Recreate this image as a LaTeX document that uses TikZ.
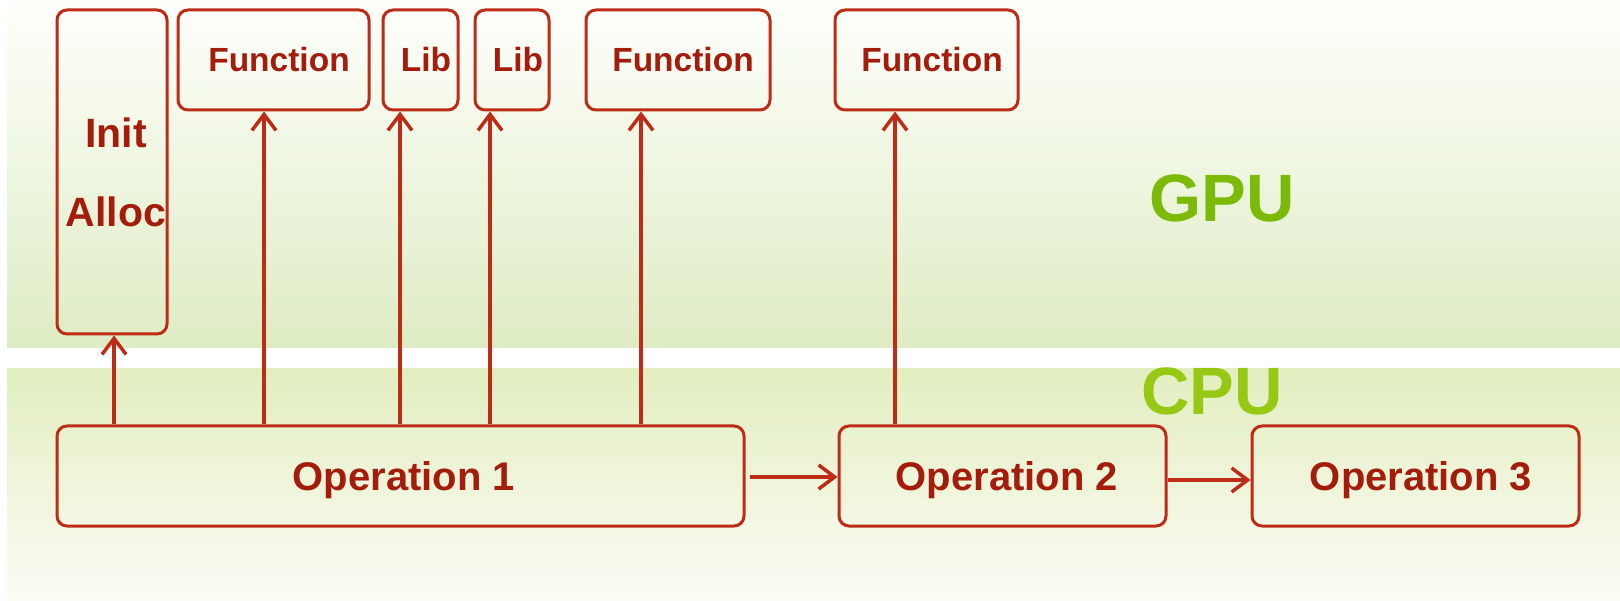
\documentclass[tikz,border=0pt]{standalone}
\usepackage{fontspec}
\setmainfont{Liberation Sans}
\usetikzlibrary{arrows.meta}

\definecolor{boxred}{HTML}{BE2C18}
\definecolor{txtred}{HTML}{A31C0C}
\definecolor{gpugreen}{HTML}{7CBA0A}
\definecolor{cpugreen}{HTML}{96C814}
\definecolor{gputop}{HTML}{FEFFFC}
\definecolor{gpubot}{HTML}{DEECC4}
\definecolor{cputop}{HTML}{E2EEC0}
\definecolor{cpubot}{HTML}{FCFCF6}

\begin{document}
\begin{tikzpicture}[x=1pt,y=-1pt,
  box/.style={draw=boxred, line width=3pt, rounded corners=10pt, inner sep=0pt},
  lbl/.style={text=txtred, inner sep=0pt, anchor=base, font=\fontsize{33.5}{40}\selectfont\bfseries},
  biglbl/.style={lbl, font=\fontsize{41}{48}\selectfont\bfseries},
  oplbl/.style={lbl, font=\fontsize{40}{48}\selectfont\bfseries},
  unitlbl/.style={inner sep=0pt, anchor=base, font=\fontsize{67}{80}\selectfont\bfseries},
  arr/.style={draw=boxred, line width=3.5pt, -{Straight Barb[length=16pt,width=24pt]}}]

\useasboundingbox (0,0) rectangle (1620,601);

% background bands
\fill[white] (0,0) rectangle (1620,601);
\shade[top color=gputop, bottom color=gpubot] (7,0) rectangle (1620,348);
\shade[top color=cputop, bottom color=cpubot] (7,369) rectangle (1620,601);

% band labels
\node[unitlbl, text=gpugreen] (gpu) at (1222,222) {GPU};
\node[unitlbl, text=cpugreen] (cpu) at (1212,415) {CPU};

% device-side boxes
\node[box, minimum width=110, minimum height=324] (init) at (112,172) {};
\node[box, minimum width=191, minimum height=100] (f1) at (273.5,60) {};
\node[box, minimum width=75, minimum height=100] (lib1) at (420.5,60) {};
\node[box, minimum width=74, minimum height=100] (lib2) at (512,60) {};
\node[box, minimum width=184, minimum height=100] (f2) at (678,60) {};
\node[box, minimum width=183, minimum height=100] (f3) at (926.5,60) {};

\node[biglbl] (initt) at (116,148) {Init};
\node[biglbl] (alloct) at (116,227) {Alloc};
\node[lbl] (f1t) at (279,72) {Function};
\node[lbl] (lib1t) at (426,72) {Lib};
\node[lbl] (lib2t) at (518,72) {Lib};
\node[lbl] (f2t) at (683,72) {Function};
\node[lbl] (f3t) at (932,72) {Function};

% host-side boxes
\node[box, minimum width=687, minimum height=100] (op1) at (400.5,476) {};
\node[box, minimum width=327, minimum height=100] (op2) at (1002.5,476) {};
\node[box, minimum width=327, minimum height=100] (op3) at (1415.5,476) {};

\node[oplbl] (op1t) at (404,490) {Operation 1};
\node[oplbl] (op2t) at (1007,490) {Operation 2};
\node[oplbl] (op3t) at (1421,490) {Operation 3};

% launch lines
\coordinate (xa) at (114,0);
\coordinate (xb) at (264,0);
\coordinate (xc) at (400,0);
\coordinate (xd) at (490,0);
\coordinate (xe) at (641,0);
\coordinate (xf) at (895,0);

\draw[arr] (op1.north -| xa) -- (init.south -| xa);
\draw[arr] (op1.north -| xb) -- (f1.south -| xb);
\draw[arr] (op1.north -| xc) -- (lib1.south -| xc);
\draw[arr] (op1.north -| xd) -- (lib2.south -| xd);
\draw[arr] (op1.north -| xe) -- (f2.south -| xe);
\draw[arr] (op2.north -| xf) -- (f3.south -| xf);

% sequence
\draw[arr, shorten <=4pt] ([yshift=-1pt]op1.east) -- ([yshift=-1pt]op2.west);
\draw[arr] ([yshift=-4pt]op2.east) -- ([yshift=-4pt]op3.west);
\end{tikzpicture}
\end{document}
